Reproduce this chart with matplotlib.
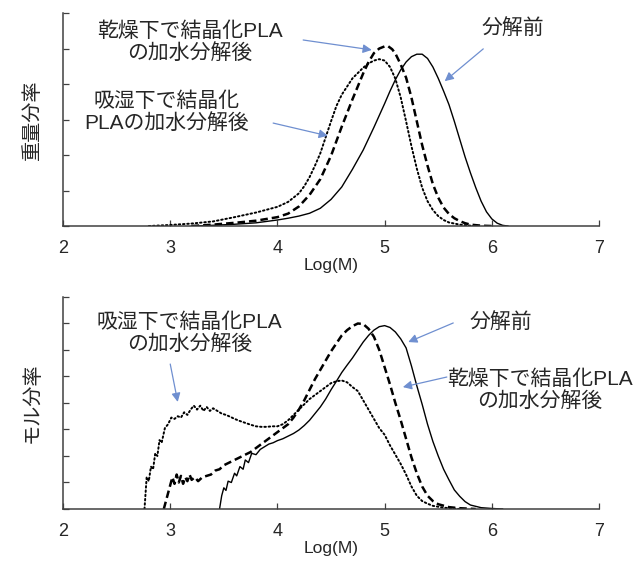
import matplotlib
matplotlib.use("Agg")
import matplotlib.pyplot as plt

plt.rcParams['font.family'] = ['Liberation Sans', 'Noto Sans CJK JP']

# 重量分率 (上段)
w_before_x = [3.2, 3.4, 3.6, 3.8, 4.0, 4.1, 4.2, 4.3, 4.4, 4.5, 4.6, 4.7, 4.8, 4.9, 5.0,
              5.05, 5.1, 5.15, 5.2, 5.25, 5.3, 5.35, 5.4, 5.45, 5.5, 5.55, 5.6, 5.65, 5.7,
              5.75, 5.8, 5.85, 5.9, 5.95, 6.0, 6.05, 6.1, 6.15]
w_before_y = [0.0, 0.02, 0.05, 0.09, 0.17, 0.22, 0.28, 0.36, 0.5, 0.75, 1.1, 1.6, 2.14, 2.78, 3.45,
              3.8, 4.12, 4.4, 4.62, 4.77, 4.84, 4.84, 4.72, 4.48, 4.16, 3.8, 3.42, 2.95, 2.45,
              1.95, 1.5, 1.08, 0.7, 0.4, 0.2, 0.08, 0.02, 0.0]

w_dry_x = [3.2, 3.4, 3.6, 3.8, 4.0, 4.1, 4.2, 4.3, 4.4, 4.5, 4.6, 4.7, 4.8, 4.85, 4.9,
           4.95, 5.0, 5.03, 5.07, 5.1, 5.15, 5.2, 5.25, 5.3, 5.35, 5.4, 5.45, 5.5, 5.55,
           5.6, 5.65, 5.7, 5.75, 5.8, 5.9, 6.0]
w_dry_y = [0.0, 0.04, 0.09, 0.15, 0.25, 0.35, 0.55, 0.88, 1.32, 1.98, 2.8, 3.57, 4.3, 4.62, 4.87,
           5.0, 5.06, 5.07, 4.98, 4.86, 4.55, 4.18, 3.62, 2.95, 2.28, 1.7, 1.18, 0.8, 0.52,
           0.34, 0.22, 0.14, 0.08, 0.04, 0.01, 0.0]

w_wet_x = [2.8, 3.0, 3.2, 3.4, 3.6, 3.8, 4.0, 4.1, 4.2, 4.25, 4.3, 4.35, 4.4, 4.45, 4.5,
           4.55, 4.6, 4.7, 4.8, 4.85, 4.9, 4.95, 5.0, 5.05, 5.1, 5.15, 5.2, 5.25, 5.3,
           5.35, 5.4, 5.45, 5.5, 5.55, 5.6, 5.7, 5.8, 5.9]
w_wet_y = [0.0, 0.03, 0.07, 0.13, 0.25, 0.38, 0.54, 0.68, 0.92, 1.12, 1.38, 1.7, 2.05, 2.5, 2.95,
           3.38, 3.7, 4.16, 4.46, 4.58, 4.66, 4.7, 4.66, 4.48, 4.15, 3.62, 2.95, 2.25, 1.62,
           1.08, 0.7, 0.45, 0.28, 0.17, 0.1, 0.04, 0.01, 0.0]

# モル分率 (下段)
m_before_x = [3.46, 3.48, 3.5, 3.52, 3.54, 3.57, 3.6, 3.62, 3.65, 3.68, 3.7, 3.73, 3.76, 3.8,
              3.84, 3.88, 3.92, 3.96, 4.0, 4.05, 4.1, 4.15, 4.2, 4.25, 4.3, 4.35, 4.4, 4.45,
              4.5, 4.55, 4.6, 4.65, 4.7, 4.75, 4.8, 4.85, 4.9, 4.95, 5.0, 5.05, 5.1, 5.15,
              5.2, 5.25, 5.3, 5.35, 5.4, 5.45, 5.5, 5.55, 5.6, 5.65, 5.7, 5.75, 5.8, 5.9,
              6.0, 6.1]
m_before_y = [0.0, 0.5, 0.8, 0.7, 1.05, 1.0, 1.35, 1.25, 1.6, 1.5, 1.85, 1.75, 2.1, 2.05,
              2.25, 2.35, 2.45, 2.5, 2.58, 2.65, 2.75, 2.85, 2.98, 3.15, 3.35, 3.6, 3.85, 4.15,
              4.5, 4.82, 5.15, 5.43, 5.7, 6.0, 6.3, 6.55, 6.75, 6.88, 6.92, 6.85, 6.68, 6.42,
              6.08, 5.4, 4.65, 3.95, 3.2, 2.55, 2.0, 1.5, 1.1, 0.72, 0.48, 0.28, 0.15, 0.05,
              0.02, 0.0]

m_dry_x = [2.94, 2.96, 2.98, 3.0, 3.02, 3.04, 3.06, 3.08, 3.1, 3.12, 3.14, 3.16, 3.18, 3.2,
           3.23, 3.26, 3.3, 3.34, 3.38, 3.42, 3.46, 3.5, 3.55, 3.6, 3.65, 3.7, 3.75, 3.8,
           3.85, 3.9, 3.95, 4.0, 4.05, 4.1, 4.15, 4.2, 4.25, 4.3, 4.35, 4.4, 4.45, 4.5,
           4.55, 4.6, 4.65, 4.7, 4.75, 4.8, 4.85, 4.9, 4.95, 5.0, 5.05, 5.1, 5.15, 5.2,
           5.25, 5.3, 5.35, 5.4, 5.45, 5.5, 5.6, 5.7, 5.85]
m_dry_y = [0.0, 0.3, 0.6, 0.9, 1.2, 0.95, 1.3, 1.0, 1.25, 0.95, 1.2, 1.05, 1.3, 1.1,
           1.2, 1.05, 1.2, 1.25, 1.3, 1.45, 1.5, 1.65, 1.75, 1.85, 1.95, 2.05, 2.15, 2.3,
           2.45, 2.6, 2.75, 2.9, 3.05, 3.2, 3.45, 3.75, 4.1, 4.5, 4.9, 5.25, 5.6, 5.95,
           6.25, 6.55, 6.75, 6.9, 7.0, 6.98, 6.8, 6.5, 6.0, 5.35, 4.7, 4.0, 3.35, 2.65,
           1.95, 1.35, 0.85, 0.5, 0.3, 0.18, 0.07, 0.03, 0.0]

m_wet_x = [2.76, 2.77, 2.78, 2.8, 2.82, 2.84, 2.86, 2.88, 2.9, 2.92, 2.95, 2.98, 3.01, 3.04,
           3.07, 3.1, 3.13, 3.16, 3.19, 3.22, 3.25, 3.28, 3.31, 3.34, 3.37, 3.4, 3.44, 3.48,
           3.52, 3.56, 3.6, 3.65, 3.7, 3.75, 3.8, 3.85, 3.9, 3.95, 4.0, 4.05, 4.1, 4.15,
           4.2, 4.25, 4.3, 4.35, 4.4, 4.45, 4.5, 4.55, 4.6, 4.65, 4.7, 4.75, 4.8, 4.85,
           4.9, 4.95, 5.0, 5.05, 5.1, 5.15, 5.2, 5.25, 5.3, 5.35, 5.4, 5.45, 5.55, 5.7]
m_wet_y = [0.0, 0.6, 1.2, 1.05, 1.6, 1.5, 2.1, 2.0, 2.6, 2.5, 3.05, 3.2, 3.45, 3.4,
           3.5, 3.45, 3.65, 3.55, 3.75, 3.9, 3.75, 3.9, 3.7, 3.85, 3.7, 3.8, 3.7, 3.6,
           3.55, 3.48, 3.4, 3.32, 3.25, 3.18, 3.12, 3.1, 3.1, 3.12, 3.12, 3.2, 3.35, 3.55,
           3.75, 3.95, 4.15, 4.3, 4.45, 4.6, 4.75, 4.82, 4.85, 4.78, 4.6, 4.45, 4.1, 3.75,
           3.4, 3.05, 2.8, 2.4, 2.05, 1.7, 1.3, 0.85, 0.5, 0.3, 0.2, 0.12, 0.05, 0.0]

xticks = [2, 3, 4, 5, 6, 7]
label_dry = '乾燥下で結晶化PLA\nの加水分解後'
label_wet_top = '吸湿下で結晶化\nPLAの加水分解後'
label_wet_bottom = '吸湿下で結晶化PLA\nの加水分解後'
label_before = '分解前'

fig = plt.figure(figsize=(6.36, 5.61), dpi=100)
ax1 = fig.add_axes([0.0991, 0.5971, 0.8428, 0.3797])
ax2 = fig.add_axes([0.0991, 0.0927, 0.8428, 0.3779])

ink = '#262626'
txt = dict(ha='center', va='center', fontsize=15, color=ink, linespacing=1.15)
arrow = dict(arrowstyle='-|>', color='#6f8fd0', lw=0.9, mutation_scale=13,
             shrinkA=0, shrinkB=0)


def style_lines(ax, bx, by, dx, dy, wx, wy):
    ax.plot(bx, by, color='black', lw=1.0)
    ax.plot(dx, dy, color='black', lw=1.8, dashes=(3, 1.6))
    ax.plot(wx, wy, color='black', lw=1.4, dashes=(0.8, 1.4), dash_capstyle='round')


def style_axes(ax, ymax, ylabel):
    ax.set_xlim(2, 7)
    ax.set_ylim(0, ymax)
    for s in ['top', 'right']:
        ax.spines[s].set_visible(False)
    for s in ['left', 'bottom']:
        ax.spines[s].set_color('#404040')
        ax.spines[s].set_linewidth(1.1)
    ax.set_xticks(xticks)
    ax.set_yticks(range(0, ymax + 1))
    ax.set_yticklabels([])
    ax.tick_params(axis='both', direction='in', length=4.5, width=0.9, color='#404040')
    ax.tick_params(axis='x', labelsize=13, pad=10, labelcolor=ink)
    ax.set_xlabel('Log(M)', fontsize=12.5, labelpad=1, color=ink)
    ax.set_ylabel(ylabel, fontsize=14.5, labelpad=12, color=ink)


style_lines(ax1, w_before_x, w_before_y, w_dry_x, w_dry_y, w_wet_x, w_wet_y)
style_axes(ax1, 6, '重量分率')
ax1.text(3.18, 5.18, label_dry, **txt)
ax1.annotate('', xy=(4.88, 4.96), xytext=(4.24, 5.24), arrowprops=arrow)
ax1.text(2.97, 3.21, label_wet_top, **txt)
ax1.annotate('', xy=(4.47, 2.54), xytext=(3.96, 2.90), arrowprops=arrow)
ax1.text(6.2, 5.58, label_before, **txt)
ax1.annotate('', xy=(5.56, 4.08), xytext=(5.92, 4.99), arrowprops=arrow)

style_lines(ax2, m_before_x, m_before_y, m_dry_x, m_dry_y, m_wet_x, m_wet_y)
style_axes(ax2, 8, 'モル分率')
ax2.text(3.18, 6.64, label_wet_bottom, **txt)
ax2.annotate('', xy=(3.07, 4.04), xytext=(3.0, 5.47), arrowprops=arrow)
ax2.text(6.08, 7.06, label_before, **txt)
ax2.annotate('', xy=(5.22, 6.30), xytext=(5.64, 7.02), arrowprops=arrow)
ax2.text(6.45, 4.49, label_dry, clip_on=False, **txt)
ax2.annotate('', xy=(5.17, 4.60), xytext=(5.58, 4.98), arrowprops=arrow)

fig.savefig('out.png', dpi=100)
